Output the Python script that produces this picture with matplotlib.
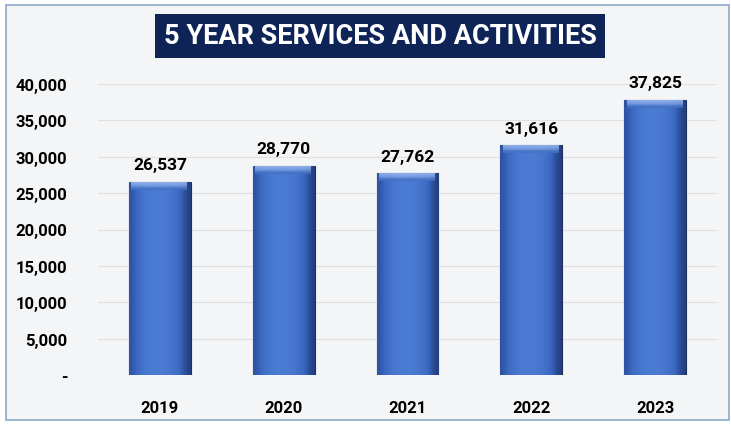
import matplotlib.pyplot as plt
import numpy as np
from matplotlib.patches import Rectangle
from matplotlib.colors import LinearSegmentedColormap
from matplotlib.ticker import FuncFormatter

years = ["2019", "2020", "2021", "2022", "2023"]
services = [26537, 28770, 27762, 31616, 37825]
y_ticks = [0, 5000, 10000, 15000, 20000, 25000, 30000, 35000, 40000]

plt.rcParams["font.family"] = ["Liberation Sans Narrow", "Roboto", "DejaVu Sans"]
plt.rcParams["font.weight"] = "bold"

W, H = 731, 427
fig = plt.figure(figsize=(W / 100, H / 100), dpi=100)
fig.patch.set_facecolor("white")

# chart frame
frame = Rectangle((6 / W, 6 / H), 723 / W, 415 / H, transform=fig.transFigure,
                  facecolor="#f3f5f6", edgecolor="#8ea9c8", linewidth=1.2, zorder=-5)
fig.patches.append(frame)

ax = fig.add_axes([98 / W, (H - 376) / H, 619 / W, (376 - 85) / H])
ax.set_facecolor("none")
ax.set_zorder(2)

x = np.arange(len(years))
bars = ax.bar(x, services, width=0.5, color="#4472c4", edgecolor="#1c2f5e", linewidth=0.8, zorder=3)

# horizontal shading for the bevelled look
bar_cmap = LinearSegmentedColormap.from_list("bar", ["#1d3570", "#3a66c0", "#4f7fd6"])
grad = np.array([[0.3, 0.6, 0.8, 0.9, 0.92, 0.9, 0.85, 0.7, 0.45, 0.1]])
top_grad = np.array([[0.0], [0.5], [1.0]])
top_cmap = LinearSegmentedColormap.from_list("top", ["#4472c4", "#7fa2e4", "#9ab8ee"])
for b in bars:
    x0, y0 = b.get_x(), b.get_y()
    w, h = b.get_width(), b.get_height()
    im = ax.imshow(grad, extent=[x0, x0 + w, y0, y0 + h], aspect="auto", cmap=bar_cmap,
                   vmin=0, vmax=1, zorder=3.5, interpolation="bicubic")
    im.set_clip_path(b)
    # lighter top bevel
    tp = ax.imshow(top_grad, extent=[x0 + 0.02, x0 + w - 0.03, y0 + h - 1100, y0 + h],
                   origin="lower", aspect="auto", cmap=top_cmap, vmin=0, vmax=1,
                   zorder=3.6, interpolation="bilinear", alpha=0.85)
    tp.set_clip_path(b)

for xi, v in zip(x, services):
    ax.text(xi, v + 1300, f"{v:,}", ha="center", va="bottom", fontsize=12.5, fontweight="bold", color="black")

ax.set_xlim(-0.5, len(years) - 0.5)
ax.set_ylim(0, 40000)
ax.set_yticks(y_ticks)
ax.yaxis.set_major_formatter(FuncFormatter(lambda v, p: "-" if v == 0 else f"{int(v):,}"))
ax.set_xticks(x)
ax.set_xticklabels(years)
ax.tick_params(axis="both", length=0, labelsize=12)
ax.tick_params(axis="y", pad=22)
ax.tick_params(axis="x", pad=18)
ax.grid(axis="y", color="#e0e0e0", linewidth=0.8, zorder=0)
for s in ax.spines.values():
    s.set_visible(False)

fig.text(380 / W, (H - 37) / H, "5 YEAR SERVICES AND ACTIVITIES", ha="center", va="center",
         fontsize=19.5, fontweight="bold", color="white",
         bbox=dict(boxstyle="square,pad=0.3", facecolor="#0e2356", edgecolor="none"))

fig.savefig("out.png", dpi=100)
